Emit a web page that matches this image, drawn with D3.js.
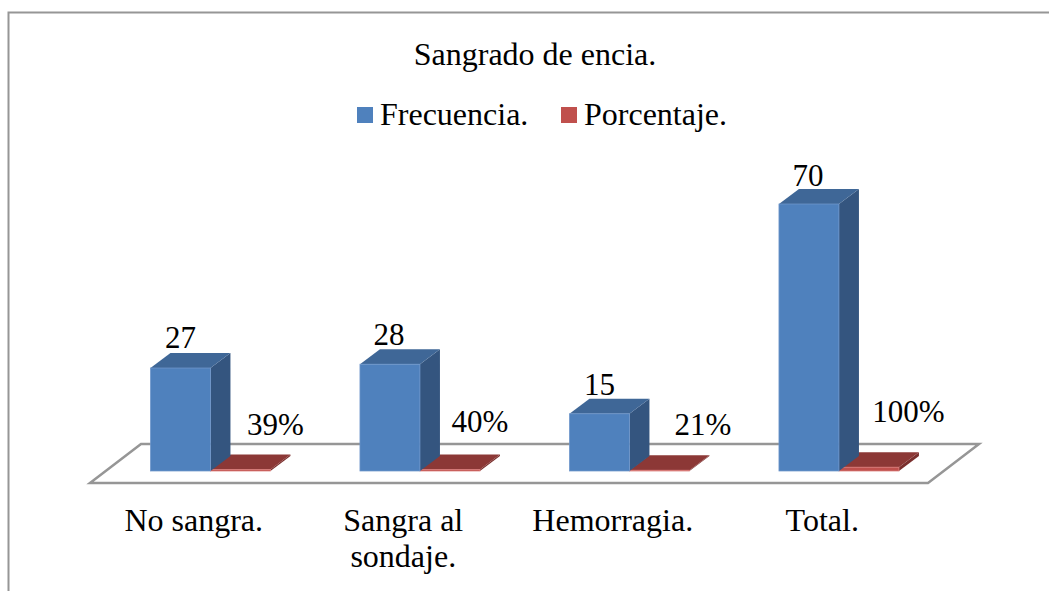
<!DOCTYPE html>
<html lang="en">
<head>
<meta charset="utf-8">
<title>Sangrado de encia</title>
<script src="https://d3js.org/d3.v7.min.js"></script>
<style>
  html, body { margin: 0; background: #fff; }
  svg { display: block; }
  text { font-family: "Liberation Serif", serif; fill: #000; }
</style>
</head>
<body>
<div id="viz"></div>
<script>
var categories = ["No sangra.", "Sangra al sondaje.", "Hemorragia.", "Total."];
var frecuencia = [27, 28, 15, 70];
var porcentaje = [0.39, 0.40, 0.21, 1];
var seriesNames = ["Frecuencia.", "Porcentaje."];

var w = 1049, h = 591;
var fontSize = 32, numberSize = 31;

// floor of the fake 3d plot
var floor = { left: 90, right: 928, front: 483, back: 444, dx: 51 };
var baseY = 471;
var depthX = 20, depthY = 15;   // how far a bar goes back
var inset = 15.7;               // bars start this far in from the floor's front edge

var blue = { front: "#4f81bd", top: "#3f6797", side: "#34557f", edge: "#6f97cb" };
var red = { front: "#c0504d", top: "#8c3836", side: "#7a2f2d", edge: "#d97c79" };

var svg = d3.select("#viz").append("svg")
  .attr("width", w)
  .attr("height", h);

// the frame runs off the right and bottom of the picture
svg.append("rect")
  .attr("x", 8.5).attr("y", 12.5)
  .attr("width", 1060).attr("height", 600)
  .attr("fill", "#fff")
  .attr("stroke", "#969696")
  .attr("stroke-width", 2);

var x = d3.scaleBand()
  .domain(categories)
  .range([floor.left + inset, floor.right + inset]);

var barWidth = 60;
var inner = d3.scaleBand()
  .domain(seriesNames)
  .range([(x.bandwidth() - 2 * barWidth) / 2, (x.bandwidth() + 2 * barWidth) / 2]);

// frecuencia 70 and porcentaje 100% are on the same axis, so the red bars stay flat
var y = d3.scaleLinear().domain([0, 70]).range([baseY, 204]);

// floor
svg.append("path")
  .attr("d", d3.line()([
    [floor.left, floor.front],
    [floor.left + floor.dx, floor.back],
    [floor.right + floor.dx, floor.back],
    [floor.right, floor.front]
  ]) + "Z")
  .attr("fill", "#fff")
  .attr("stroke", "#969696")
  .attr("stroke-width", 2.5);

function drawBar(g, x0, yTop, colors) {
  var x1 = x0 + barWidth;
  g.append("path")
    .attr("d", d3.line()([[x1, yTop], [x1 + depthX, yTop - depthY], [x1 + depthX, baseY - depthY], [x1, baseY]]) + "Z")
    .attr("fill", colors.side);
  g.append("path")
    .attr("d", d3.line()([[x0, yTop], [x0 + depthX, yTop - depthY], [x1 + depthX, yTop - depthY], [x1, yTop]]) + "Z")
    .attr("fill", colors.top);
  g.append("rect")
    .attr("x", x0).attr("y", yTop)
    .attr("width", barWidth).attr("height", baseY - yTop)
    .attr("fill", colors.front)
    .attr("stroke", colors.edge)
    .attr("stroke-width", 0.75);
}

var bars = svg.append("g");

categories.forEach(function(c, i) {
  var g = bars.append("g");
  // red goes first so the blue bar's side covers it
  drawBar(g, x(c) + inner(seriesNames[1]), y(porcentaje[i]), red);
  drawBar(g, x(c) + inner(seriesNames[0]), y(frecuencia[i]), blue);
});

// data labels, these were placed by hand in the original
var freqLabelX = [30, 29, 30, 29], freqLabelGap = [20, 19, 19, 18];
var pctLabelX = [65, 60, 73.5, 69.5], pctLabelY = [435, 432, 435, 422];

categories.forEach(function(c, i) {
  svg.append("text")
    .attr("x", x(c) + inner(seriesNames[0]) + freqLabelX[i])
    .attr("y", y(frecuencia[i]) - freqLabelGap[i])
    .attr("text-anchor", "middle")
    .attr("font-size", numberSize)
    .text(frecuencia[i]);

  svg.append("text")
    .attr("x", x(c) + inner(seriesNames[1]) + pctLabelX[i])
    .attr("y", pctLabelY[i])
    .attr("text-anchor", "middle")
    .attr("font-size", numberSize)
    .text(d3.format(".0%")(porcentaje[i]));
});

// category labels
var catLines = [["No sangra."], ["Sangra al", "sondaje."], ["Hemorragia."], ["Total."]];
categories.forEach(function(c, i) {
  var t = svg.append("text")
    .attr("text-anchor", "middle")
    .attr("font-size", fontSize);
  catLines[i].forEach(function(line, j) {
    t.append("tspan")
      .attr("x", x(c) + x.bandwidth() / 2 - inset - 1)
      .attr("y", 531 + j * 36)
      .text(line);
  });
});

// title
svg.append("text")
  .attr("x", 535).attr("y", 65)
  .attr("text-anchor", "middle")
  .attr("font-size", fontSize)
  .text("Sangrado de encia.");

// legend
var legendX = [357, 561], legendColors = [blue.front, red.front];
seriesNames.forEach(function(s, i) {
  svg.append("rect")
    .attr("x", legendX[i]).attr("y", 107)
    .attr("width", 16).attr("height", 16)
    .attr("fill", legendColors[i]);
  svg.append("text")
    .attr("x", legendX[i] + 23).attr("y", 125)
    .attr("font-size", fontSize)
    .text(s);
});
</script>
</body>
</html>
